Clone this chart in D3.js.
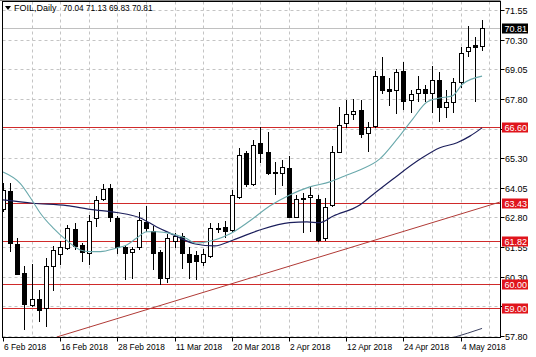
<!DOCTYPE html>
<html><head><meta charset="utf-8">
<script src="https://cdn.jsdelivr.net/npm/d3@7"></script>
<style>html,body{margin:0;padding:0;background:#fff;}svg{display:block;font-family:"Liberation Sans",Arial,sans-serif;}</style>
</head><body>
<script>
// ---------- DATA ----------
const symbolTitle = "FOIL,Daily";
const lastOHLC = ["70.04", "71.13", "69.83", "70.81"];

const opens  = [63.15,63.93,61.68,60.46,59.11,59.37,58.98,60.75,61.26,61.51,62.31,61.64,61.31,62.76,63.56,64.04,62.78,61.55,61.34,61.55,62.62,62.23,61.34,60.23,61.81,62.02,61.27,61.20,60.92,61.17,62.33,62.38,62.27,63.66,65.52,64.21,65.94,65.56,64.70,64.69,64.90,62.83,63.62,63.65,63.58,61.93,63.33,65.57,66.78,67.16,67.33,66.37,66.66,68.77,68.21,68.18,68.98,67.75,68.04,68.22,68.05,68.60,67.47,67.68,68.51,69.84,70.07,70.04];
const highs  = [64.25,64.24,61.92,60.75,60.84,59.74,61.09,61.60,61.82,62.48,62.56,61.72,62.90,63.70,64.21,64.21,62.86,61.64,61.55,63.05,63.28,62.44,61.43,62.10,62.15,62.15,61.55,61.40,61.48,62.57,62.55,62.66,63.96,65.73,65.60,66.07,66.62,66.42,65.15,65.22,65.39,63.75,63.83,64.09,63.75,63.62,65.81,67.47,67.75,67.80,67.75,66.84,68.98,69.57,68.68,69.06,69.37,68.18,68.77,68.39,69.19,68.94,68.18,68.67,69.99,70.88,70.41,71.13];
const lows   = [63.05,61.36,60.37,58.07,59.02,58.39,58.18,59.70,60.80,61.43,61.43,60.92,60.80,62.40,63.49,62.61,61.26,60.16,60.20,61.43,62.19,60.58,59.97,60.04,61.51,60.64,60.22,60.16,60.75,61.09,62.15,61.95,62.19,63.58,64.08,64.13,65.10,64.59,63.75,64.13,62.78,62.78,62.14,62.19,61.77,61.81,63.24,65.52,66.57,66.91,66.15,65.56,66.57,68.01,67.50,67.16,67.33,67.21,67.67,67.67,67.21,66.83,66.99,67.21,68.26,69.57,67.67,69.83];
const closes = [63.95,61.74,60.42,59.16,59.36,58.91,60.75,61.43,61.55,62.36,61.60,61.36,62.66,63.52,64.00,62.83,61.55,61.31,61.45,62.69,62.34,61.31,60.23,61.93,62.02,61.30,60.92,60.95,61.26,62.36,62.36,62.24,63.75,65.43,64.19,65.86,65.52,64.69,64.67,64.93,62.83,63.58,63.58,63.75,61.85,63.24,65.56,66.70,67.16,67.30,66.32,66.63,68.77,68.18,68.15,68.94,67.72,68.01,68.20,68.04,68.60,67.47,67.68,68.53,69.74,70.00,70.01,70.81];

// fast moving average (light teal) – [bar, price]
const fastMA = [[0,64.72],[2.4,64.24],[4.2,63.46],[5.2,62.99],[7.0,62.36],[9.0,61.81],[10.8,61.43],[12.2,61.36],[13.6,61.36],[15.9,61.51],[17.3,61.64],[18.7,61.93],[20.1,62.20],[21.5,62.20],[23.4,62.13],[25.5,61.93],[27.0,61.72],[29.6,61.85],[31.7,62.10],[34.5,62.65],[37.3,63.28],[40.1,63.75],[42.9,64.09],[45.7,64.30],[47.8,64.55],[49.9,64.80],[52.7,65.27],[55.1,66.10],[57.3,66.95],[59.3,67.67],[61.1,67.84],[62.8,67.92],[64.3,68.43],[67.0,68.76]];
// slow moving average (dark navy)
const slowMA = [[0,63.54],[4.2,63.40],[8.95,63.30],[12.2,63.14],[15.9,63.01],[19.2,62.78],[21.5,62.40],[23.4,62.13],[24.8,61.93],[26.9,61.68],[29.6,61.60],[32.2,61.85],[35.9,62.27],[40.1,62.58],[42.5,62.61],[44.3,62.58],[46.2,62.86],[49.9,63.33],[51.8,63.78],[54.5,64.41],[58.3,65.25],[61.1,65.74],[63.5,65.95],[65.3,66.23],[67.0,66.58]];
// long moving average (dark grey, only its end is inside the window)
const longMA = [[62.6,57.70],[65.0,57.92],[67.0,58.12]];

// trend line end points [bar, price]
const trendLine = [[7.55,57.76],[69.5,63.45]];

// horizontal levels
const levels = [66.60, 63.43, 61.82, 60.00, 59.00];
const levelLabels = ["66.60","63.43","61.82","60.00","59.00"];
const currentPrice = 70.81;

// price axis ticks
const priceTicks = [71.55,70.30,69.05,67.80,66.55,65.30,64.05,62.80,61.55,60.30,59.05,57.80];
// date axis labels and the bar they belong to
const dateLabels = ["6 Feb 2018","16 Feb 2018","28 Feb 2018","11 Mar 2018","20 Mar 2018","2 Apr 2018","12 Apr 2018","24 Apr 2018","4 May 2018"];
const dateBars = [0,8,16,24,32,40,48,56,64];
const gridBars = d3.range(4, 69, 4);

// ---------- LAYOUT ----------
const W = 536, H = 357;
const L = 2.5, R = 500.5, T = 1.5, B = 337.5;

const x = d3.scaleLinear().domain([0, 68]).range([3, 3 + 7.15 * 68]);
const y = d3.scaleLinear().domain([57.80, 71.55]).range([336, 10]);
const py = v => Math.round(y(v)) + 0.5;

const svg = d3.select("body").append("svg").attr("width", W).attr("height", H);
svg.append("rect").attr("width", W).attr("height", H).attr("fill", "#fff");

svg.append("defs").append("clipPath").attr("id", "plot")
  .append("rect").attr("x", L).attr("y", T).attr("width", R - L).attr("height", B - T);

const g = svg.append("g").attr("clip-path", "url(#plot)");

// grid
g.selectAll(".hg").data(priceTicks).join("line")
  .attr("x1", L).attr("x2", R)
  .attr("y1", py).attr("y2", py)
  .attr("stroke", "#c4c4c4").attr("stroke-dasharray", "3,3");
g.selectAll(".vg").data(gridBars).join("line")
  .attr("x1", d => Math.round(x(d)) + 0.5).attr("x2", d => Math.round(x(d)) + 0.5)
  .attr("y1", T).attr("y2", B)
  .attr("stroke", "#c4c4c4").attr("stroke-dasharray", "3,3");

// current price line
g.append("line").attr("x1", L).attr("x2", R)
  .attr("y1", py(currentPrice)).attr("y2", py(currentPrice))
  .attr("stroke", "#c0c0c0");

// levels
g.selectAll(".lv").data(levels).join("line")
  .attr("x1", L).attr("x2", R)
  .attr("y1", py).attr("y2", py)
  .attr("stroke", "#cf2a2a").attr("stroke-width", 1);

// trend line
g.append("line")
  .attr("x1", x(trendLine[0][0])).attr("y1", y(trendLine[0][1]))
  .attr("x2", x(trendLine[1][0])).attr("y2", y(trendLine[1][1]))
  .attr("stroke", "#b03a36").attr("stroke-width", 1);

// candles
const bars = d3.range(opens.length).map(i => ({i, o: opens[i], h: highs[i], l: lows[i], c: closes[i]}));
const cg = g.append("g");
cg.selectAll(".wick").data(bars).join("line")
  .attr("x1", d => Math.round(x(d.i)) + 0.5).attr("x2", d => Math.round(x(d.i)) + 0.5)
  .attr("y1", d => Math.round(y(d.h))).attr("y2", d => Math.round(y(d.l)))
  .attr("stroke", "#000");
cg.selectAll(".body").data(bars).join("rect")
  .attr("x", d => Math.round(x(d.i)) - 1.5)
  .attr("y", d => Math.round(y(Math.max(d.o, d.c))) + 0.5)
  .attr("width", 4)
  .attr("height", d => Math.max(0.01, Math.round(y(Math.min(d.o, d.c))) - Math.round(y(Math.max(d.o, d.c)))))
  .attr("fill", d => d.c >= d.o ? "#fff" : "#000")
  .attr("stroke", "#000");

// moving averages
const line = d3.line().x(d => x(d[0])).y(d => y(d[1])).curve(d3.curveMonotoneX);
g.append("path").attr("d", line(slowMA)).attr("fill", "none").attr("stroke", "#1c1f5c").attr("stroke-width", 1.2);
g.append("path").attr("d", line(fastMA)).attr("fill", "none").attr("stroke", "#6aa9ac").attr("stroke-width", 1.1);
g.append("path").attr("d", line(longMA)).attr("fill", "none").attr("stroke", "#3a4060").attr("stroke-width", 1);

// frame
svg.append("rect").attr("x", L).attr("y", T).attr("width", R - L).attr("height", B - T)
  .attr("fill", "none").attr("stroke", "#000");
svg.append("line").attr("x1", 0).attr("x2", R).attr("y1", 0.5).attr("y2", 0.5).attr("stroke", "#888");

// price axis
const pa = svg.append("g");
const covered = p => levels.some(l => Math.abs(y(l) - y(p)) < 3);
priceTicks.forEach(p => {
  const yy = py(p);
  pa.append("line").attr("x1", R).attr("x2", R + 4).attr("y1", yy).attr("y2", yy).attr("stroke", "#000");
  if (!covered(p))
    pa.append("text").attr("x", 505).attr("y", yy + 3.5).attr("font-size", 9).attr("fill", "#000").text(p.toFixed(2));
});
levels.forEach((p, k) => {
  const yy = py(p);
  pa.append("rect").attr("x", 502).attr("y", yy - 5).attr("width", 26).attr("height", 10).attr("fill", "#e0141c");
  pa.append("text").attr("x", 504.5).attr("y", yy + 3.3).attr("font-size", 9).attr("fill", "#fff").text(levelLabels[k]);
});
{
  const yy = py(currentPrice);
  pa.append("rect").attr("x", 502).attr("y", yy - 5).attr("width", 26).attr("height", 10).attr("fill", "#000");
  pa.append("text").attr("x", 504.5).attr("y", yy + 3.3).attr("font-size", 9).attr("fill", "#fff").text(currentPrice.toFixed(2));
}

// date axis
const da = svg.append("g");
dateBars.forEach((b, k) => {
  const xx = Math.round(x(b)) + 0.5;
  da.append("line").attr("x1", xx).attr("x2", xx).attr("y1", B).attr("y2", B + 4).attr("stroke", "#000");
  da.append("text").attr("transform", `translate(${xx + 0.5},350) scale(0.88,1)`)
    .attr("font-size", 9.5).attr("fill", "#000").text(dateLabels[k]);
});

// title
svg.append("path").attr("d", "M5,6 L11,6 L8,10 Z").attr("fill", "#000");
svg.append("text").attr("x", 14).attr("y", 11).attr("font-size", 9).attr("fill", "#000").text(symbolTitle);
svg.append("text").attr("transform", "translate(63,11) scale(0.92,1)").attr("font-size", 9).attr("fill", "#000")
  .text(lastOHLC.join(" "));
</script>
</body></html>
